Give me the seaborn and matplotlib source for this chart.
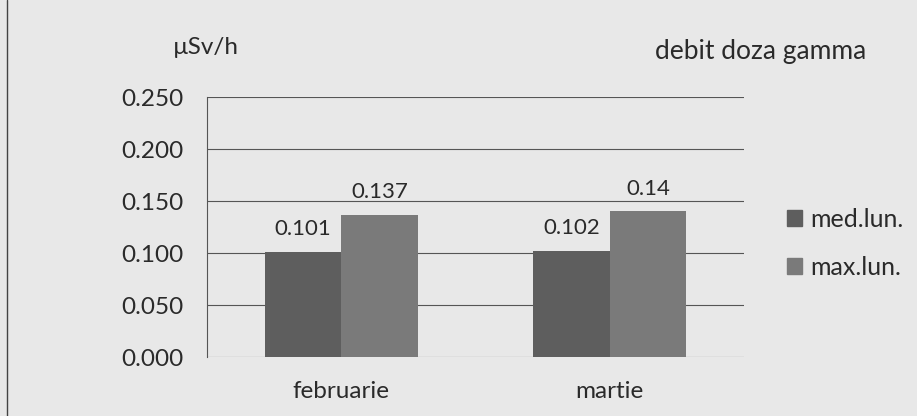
import numpy as np
import pandas as pd
import matplotlib
matplotlib.use("Agg")
import matplotlib.pyplot as plt
import seaborn as sns

months = ["februarie", "martie"]
series = ["med.lun.", "max.lun."]
med_values = [0.101, 0.102]
max_values = [0.137, 0.14]
bar_labels = [["0.101", "0.102"], ["0.137", "0.14"]]
y_ticks = [0.0, 0.05, 0.10, 0.15, 0.20, 0.25]

df = pd.DataFrame({
    "luna": months * 2,
    "serie": [series[0]] * 2 + [series[1]] * 2,
    "valoare": med_values + max_values,
})

sns.set_style("white")
plt.rcParams["font.family"] = ["Lato", "DejaVu Sans"]

page = "#e8e8e8"
text_col = "#2a2a2a"
colors = ["#5e5e5e", "#7a7a7a"]

fig = plt.figure(figsize=(9.17, 4.16), dpi=100, facecolor=page)
ax = fig.add_axes([0.2257, 0.1418, 0.5856, 0.625])
ax.set_facecolor(page)

sns.barplot(
    data=df,
    x="luna",
    y="valoare",
    hue="serie",
    palette=colors,
    width=0.57,
    gap=0,
    saturation=1,
    linewidth=0,
    edgecolor="none",
    ax=ax,
    legend=False,
)

for container, labels in zip(ax.containers, bar_labels):
    ax.bar_label(container, labels=labels, padding=9, fontsize=16, color=text_col)

ax.set_ylim(0, 0.25)
ax.set_xlim(-0.5, 1.5)
ax.set_yticks(y_ticks)
ax.set_yticklabels([f"{v:.3f}" for v in y_ticks], fontsize=17.5, color=text_col)
ax.tick_params(axis="y", length=0, pad=17)
ax.tick_params(axis="x", length=0, labelsize=17.5, labelcolor=text_col, pad=17)
ax.set_xlabel("")
ax.set_ylabel("")
ax.grid(axis="y", color="#555555", linewidth=0.8)
ax.set_axisbelow(True)
for side in ["top", "right", "bottom"]:
    ax.spines[side].set_visible(False)
ax.spines["left"].set_color("#555555")
ax.spines["left"].set_linewidth(0.8)

fig.text(0.188, 0.887, "µSv/h", fontsize=17.5, color=text_col, va="center")
fig.text(0.829, 0.875, "debit doza gamma", fontsize=19, color=text_col, ha="center", va="center")

handles = [plt.Rectangle((0, 0), 1, 1, color=c) for c in colors]
fig.legend(handles, series, loc="center left", bbox_to_anchor=(0.834, 0.415),
           frameon=False, fontsize=18, handlelength=0.6, handleheight=0.6,
           handletextpad=0.3, labelspacing=1.0, labelcolor=text_col)

fig.add_artist(plt.Line2D([0.008, 0.008], [0, 1], color="#444444", linewidth=1))

fig.savefig("out.png", dpi=100, facecolor=page)
